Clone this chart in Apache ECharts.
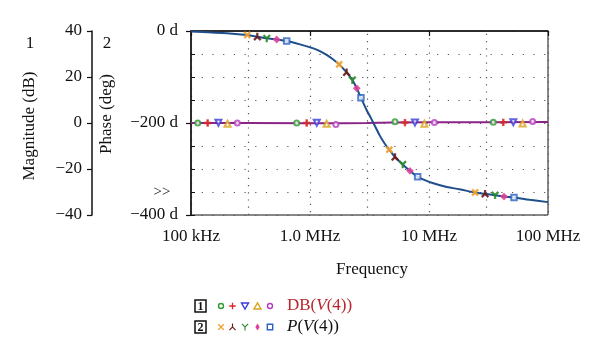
<!DOCTYPE html>
<html><head><meta charset="utf-8">
<script src="https://cdn.jsdelivr.net/npm/echarts@6/dist/echarts.min.js"></script>
<style>html,body{margin:0;padding:0;background:#fff}#c{width:600px;height:363px}</style>
</head><body><div id="c"></div><script>
// ---- data ----
const phaseFreq = [1e5, 1.5e5, 2.0e5, 2.5e5, 2.97e5, 3.61e5, 4.33e5, 5.25e5, 6.37e5, 8.24e5, 1.067e6, 1.2e6, 1.38e6, 1.55e6, 1.76e6, 2.03e6, 2.27e6, 2.47e6, 2.68e6, 2.99e6, 3.26e6, 3.52e6, 3.87e6, 4.25e6, 4.64e6, 5.18e6, 6.01e6, 6.92e6, 8.03e6, 1.087e7, 1.41e7, 1.80e7, 2.44e7, 2.96e7, 3.59e7, 4.27e7, 5.18e7, 7.0e7, 1e8];
const phaseDeg  = [-1.2, -3, -5, -7, -8.7, -12.4, -15.9, -18.5, -21.7, -29, -37.7, -43, -52, -61, -72.5, -90, -106.5, -124.6, -145, -171.7, -190, -207, -228, -245, -258, -274, -290, -304, -317, -331, -339, -344, -351, -354, -357, -360, -362, -367, -372];
const magFreq = [1e5, 3e5, 1e6, 2e6, 3e6, 5e6, 1e7, 3e7, 1e8];
const magDb   = [0, 0, -0.1, -0.1, 0, 0.2, 0.3, 0.3, 0.4];

// magnitude markers (1): green circle, red plus, blue down-triangle, orange triangle, magenta circle
const magMkFreqA = [1.14e5, 7.73e5, 5.18e6, 3.47e7];
const magMkFreqB = [1.38e5, 9.38e5, 6.28e6, 4.21e7];
const magMkFreqC = [1.70e5, 1.14e6, 7.62e6, 5.11e7];
const magMkFreqD = [2.03e5, 1.38e6, 9.14e6, 6.12e7];
const magMkFreqE = [2.45e5, 1.65e6, 1.11e7, 7.43e7];
const magMkDbA = [0, 0, 0.5, 0.3];
const magMkDbB = [0, 0, 0.2, 0.3];
const magMkDbC = [0.1, 0.1, 0.2, 0.3];
const magMkDbD = [-0.3, -0.3, -0.3, -0.2];
const magMkDbE = [0, -0.6, 0.2, 0.7];

// phase markers (2): orange x, dark red inverted-Y, green Y, magenta diamond, blue square
const phMkFreqA = [2.97e5, 1.76e6, 4.64e6, 2.44e7];
const phMkFreqB = [3.61e5, 2.03e6, 5.18e6, 2.96e7];
const phMkFreqC = [4.33e5, 2.27e6, 6.01e6, 3.59e7];
const phMkFreqD = [5.25e5, 2.47e6, 6.92e6, 4.27e7];
const phMkFreqE = [6.37e5, 2.68e6, 8.03e6, 5.18e7];
const phMkDegA = [-8.7, -72.5, -258, -351];
const phMkDegB = [-12.4, -90, -274, -354];
const phMkDegC = [-15.9, -106.5, -290, -357];
const phMkDegD = [-18.5, -124.6, -304, -360];
const phMkDegE = [-21.7, -145, -317, -362];

const xTickValues = [1e5, 1e6, 1e7, 1e8];
const xTickLabels = ['100 kHz', '1.0 MHz', '10 MHz', '100 MHz'];
const xGridExtra = [3e5, 3e6, 3e7];
const phaseTickValues = [0, -200, -400];
const phaseTickLabels = ['0 d', '\u2212200 d', '\u2212400 d'];
const magTickValues = [40, 20, 0, -20, -40];
const magTickLabels = ['40', '20', '0', '\u221220', '\u221240'];

// ---- styling ----
const FONT = 'Liberation Serif';
const FS = 17;
const dotH = {color: '#555', width: 1.2, type: [1.2, 9.5]};
const dotV = {color: '#555', width: 1.2, type: [1.2, 6]};
const P_PLUS = 'M4,0H6V4H10V6H6V10H4V6H0V4H4Z';
const P_X = 'M1.4,0L5,3.6L8.6,0L10,1.4L6.4,5L10,8.6L8.6,10L5,6.4L1.4,10L0,8.6L3.6,5L0,1.4Z';
const P_Y = 'M0,1.2L1.2,0L5,4L8.8,0L10,1.2L5.8,5.5V10H4.2V5.5Z';
const P_IY = 'M4.2,0H5.8V4.5L10,8.8L8.8,10L5,6L1.2,10L0,8.8L4.2,4.5Z';

const C = {
  gC: '#2f9a2f', rP: '#d42a2a', bT: '#3b3bd8', oT: '#d9a21e', mC: '#b63cc0',
  oX: '#f0a030', dY: '#6a1a1a', gY: '#2a8a2a', mD: '#e0409a', bS: '#2b62c0'
};

function zip(a, b) { return a.map((v, i) => [v, b[i]]); }
function mk(name, fx, fy, yIdx, symbol, color, size, opts) {
  return Object.assign({
    name, type: 'scatter', yAxisIndex: yIdx, data: zip(fx, fy),
    symbol, symbolSize: size, z: 5,
    itemStyle: {color: color, borderColor: color, borderWidth: 1.3}
  }, opts || {});
}
// convert simple absolute path (M,L,H,V,Z in a 10x10 box) to polygon points
function pathPts(p, cx, cy, s) {
  const toks = p.match(/[MLHVZ]|-?[\d.]+/g);
  const pts = []; let x = 0, y = 0, i = 0, cmd = '';
  while (i < toks.length) {
    const t = toks[i];
    if (/[MLHVZ]/.test(t)) { cmd = t; i++; if (t === 'Z') continue; }
    if (cmd === 'M' || cmd === 'L') { x = +toks[i]; y = +toks[i + 1]; i += 2; }
    else if (cmd === 'H') { x = +toks[i]; i++; }
    else if (cmd === 'V') { y = +toks[i]; i++; }
    else { i++; continue; }
    pts.push([cx + (x - 5) * s / 10, cy + (y - 5) * s / 10]);
  }
  return pts;
}
function gPoly(p, cx, cy, s, color) {
  return {type: 'polygon', shape: {points: pathPts(p, cx, cy, s)}, style: {fill: color}};
}

const chart = echarts.init(document.getElementById('c'), null, {renderer: 'canvas'});

const legendY1 = 306, legendY2 = 327;
const lx = [221, 232.5, 245, 257.5, 270];
const F = FS + 'px "' + FONT + '"';
const graphic = [
  {type: 'text', x: 30, y: 44, style: {text: '1', font: F, fill: '#111', align: 'center', verticalAlign: 'middle'}},
  {type: 'text', x: 107, y: 44, style: {text: '2', font: F, fill: '#111', align: 'center', verticalAlign: 'middle'}},
  {type: 'text', x: 30, y: 126, rotation: Math.PI / 2, style: {text: 'Magnitude (dB)', font: F, fill: '#111', align: 'center', verticalAlign: 'middle'}},
  {type: 'text', x: 107, y: 114, rotation: Math.PI / 2, style: {text: 'Phase (deg)', font: F, fill: '#111', align: 'center', verticalAlign: 'middle'}},
  {type: 'text', x: 162, y: 192, style: {text: '>>', font: '15px "' + FONT + '"', fill: '#111', align: 'center', verticalAlign: 'middle'}},
  {type: 'text', x: 372, y: 270, style: {text: 'Frequency', font: F, fill: '#111', align: 'center', verticalAlign: 'middle'}},
  // legend row 1
  {type: 'rect', shape: {x: 195, y: 300, width: 11, height: 12}, style: {fill: 'none', stroke: '#111', lineWidth: 1.5}},
  {type: 'text', x: 200.5, y: 306.5, style: {text: '1', font: 'bold 12px "' + FONT + '"', fill: '#111', align: 'center', verticalAlign: 'middle'}},
  {type: 'circle', shape: {cx: lx[0], cy: legendY1, r: 2.5}, style: {fill: '#fff', stroke: C.gC, lineWidth: 1.4}},
  gPoly(P_PLUS, lx[1], legendY1, 6.5, C.rP),
  {type: 'polygon', shape: {points: [[lx[2] - 3.5, legendY1 - 3], [lx[2] + 3.5, legendY1 - 3], [lx[2], legendY1 + 3]]}, style: {fill: '#fff', stroke: C.bT, lineWidth: 1.4}},
  {type: 'polygon', shape: {points: [[lx[3] - 3.5, legendY1 + 3], [lx[3] + 3.5, legendY1 + 3], [lx[3], legendY1 - 3]]}, style: {fill: '#fff', stroke: C.oT, lineWidth: 1.4}},
  {type: 'circle', shape: {cx: lx[4], cy: legendY1, r: 2.5}, style: {fill: '#fff', stroke: C.mC, lineWidth: 1.4}},
  {type: 'text', x: 287, y: legendY1, style: {text: '{n|DB(}{i|V}{n|(4))}', fill: '#b8262b', align: 'left', verticalAlign: 'middle',
    rich: {n: {fontFamily: FONT, fontSize: FS, fill: '#b8262b'}, i: {fontFamily: FONT, fontSize: FS, fontStyle: 'italic', fill: '#b8262b'}}}},
  // legend row 2
  {type: 'rect', shape: {x: 195, y: 321, width: 11, height: 12}, style: {fill: 'none', stroke: '#111', lineWidth: 1.5}},
  {type: 'text', x: 200.5, y: 327.5, style: {text: '2', font: 'bold 12px "' + FONT + '"', fill: '#111', align: 'center', verticalAlign: 'middle'}},
  gPoly(P_X, lx[0], legendY2, 6.5, C.oX),
  gPoly(P_IY, lx[1], legendY2, 7, C.dY),
  gPoly(P_Y, lx[2], legendY2, 7, C.gY),
  {type: 'polygon', shape: {points: [[lx[3], legendY2 - 3.5], [lx[3] + 2.2, legendY2], [lx[3], legendY2 + 3.5], [lx[3] - 2.2, legendY2]]}, style: {fill: C.mD}},
  {type: 'rect', shape: {x: lx[4] - 2.7, y: legendY2 - 2.7, width: 5.4, height: 5.4}, style: {fill: '#fff', stroke: C.bS, lineWidth: 1.4}},
  {type: 'text', x: 287, y: legendY2, style: {text: '{i|P}{n|(}{i|V}{n|(4))}', fill: '#111', align: 'left', verticalAlign: 'middle',
    rich: {n: {fontFamily: FONT, fontSize: FS, fill: '#111'}, i: {fontFamily: FONT, fontSize: FS, fontStyle: 'italic', fill: '#111'}}}}
];

const option = {
  animation: false,
  backgroundColor: '#fff',
  grid: {left: 191, top: 31, right: 52, bottom: 148, show: true, borderColor: '#111', borderWidth: 1, backgroundColor: 'transparent', containLabel: false},
  xAxis: {
    type: 'log', logBase: 10, min: 1e5, max: 1e8,
    axisLine: {show: true, lineStyle: {color: '#111', width: 1.5}},
    axisTick: {show: true, length: 5, lineStyle: {color: '#111', width: 1.2}},
    axisLabel: {margin: 13, fontFamily: FONT, fontSize: FS, color: '#111',
      formatter: v => { const i = xTickValues.findIndex(t => Math.abs(Math.log10(t) - Math.log10(v)) < 1e-6); return i >= 0 ? xTickLabels[i] : ''; }},
    splitLine: {show: true, lineStyle: dotV}
  },
  yAxis: [
    {
      type: 'value', min: -400, max: 0, interval: 200, position: 'left',
      axisLine: {show: true, lineStyle: {color: '#111', width: 1.5}},
      axisTick: {show: true, inside: true, length: 4, lineStyle: {color: '#111'}},
      minorTick: {show: true, splitNumber: 4, length: 4, lineStyle: {color: '#111'}},
      axisLabel: {margin: 13, fontFamily: FONT, fontSize: FS, color: '#111',
        formatter: v => { const i = phaseTickValues.indexOf(v); return i >= 0 ? phaseTickLabels[i] : ''; }},
      splitLine: {show: true, lineStyle: dotH},
      minorSplitLine: {show: true, lineStyle: dotH}
    },
    {
      type: 'value', min: -40, max: 40, interval: 20, position: 'left', offset: 99,
      axisLine: {show: true, lineStyle: {color: '#111', width: 1.5}},
      axisTick: {show: true, length: 5, lineStyle: {color: '#111', width: 1.2}},
      axisLabel: {margin: 10, fontFamily: FONT, fontSize: FS, color: '#111',
        formatter: v => { const i = magTickValues.indexOf(v); return i >= 0 ? magTickLabels[i] : ''; }},
      splitLine: {show: false}
    },
    {
      type: 'value', min: -400, max: 0, interval: 200, position: 'left',
      axisLine: {show: false},
      axisTick: {show: true, length: 5, lineStyle: {color: '#111', width: 1.2}},
      axisLabel: {show: false},
      splitLine: {show: false}
    }
  ],
  series: [
    {type: 'line', data: [], yAxisIndex: 0, silent: true, z: 1,
      markLine: {silent: true, symbol: 'none', label: {show: false}, lineStyle: dotV,
        data: xGridExtra.map(v => ({xAxis: v}))}},
    {name: 'P', type: 'line', yAxisIndex: 0, data: zip(phaseFreq, phaseDeg), showSymbol: false, smooth: 0.3, z: 3,
      lineStyle: {color: '#1f4e8c', width: 2}},
    {name: 'DB', type: 'line', yAxisIndex: 1, data: zip(magFreq, magDb), showSymbol: false, z: 2,
      lineStyle: {color: '#8a2586', width: 2}},
    mk('m1', magMkFreqA, magMkDbA, 1, 'emptyCircle', C.gC, 5),
    mk('m2', magMkFreqB, magMkDbB, 1, 'path://' + P_PLUS, C.rP, 6),
    mk('m3', magMkFreqC, magMkDbC, 1, 'emptyTriangle', C.bT, 6, {symbolRotate: 180}),
    mk('m4', magMkFreqD, magMkDbD, 1, 'emptyTriangle', C.oT, 6),
    mk('m5', magMkFreqE, magMkDbE, 1, 'emptyCircle', C.mC, 5),
    mk('p1', phMkFreqA, phMkDegA, 0, 'path://' + P_X, C.oX, 6),
    mk('p2', phMkFreqB, phMkDegB, 0, 'path://' + P_IY, C.dY, 6.5),
    mk('p3', phMkFreqC, phMkDegC, 0, 'path://' + P_Y, C.gY, 6.5),
    mk('p4', phMkFreqD, phMkDegD, 0, 'diamond', C.mD, 6),
    mk('p5', phMkFreqE, phMkDegE, 0, 'emptyRect', C.bS, 5.5)
  ],
  graphic: graphic
};
chart.setOption(option);
</script></body></html>
